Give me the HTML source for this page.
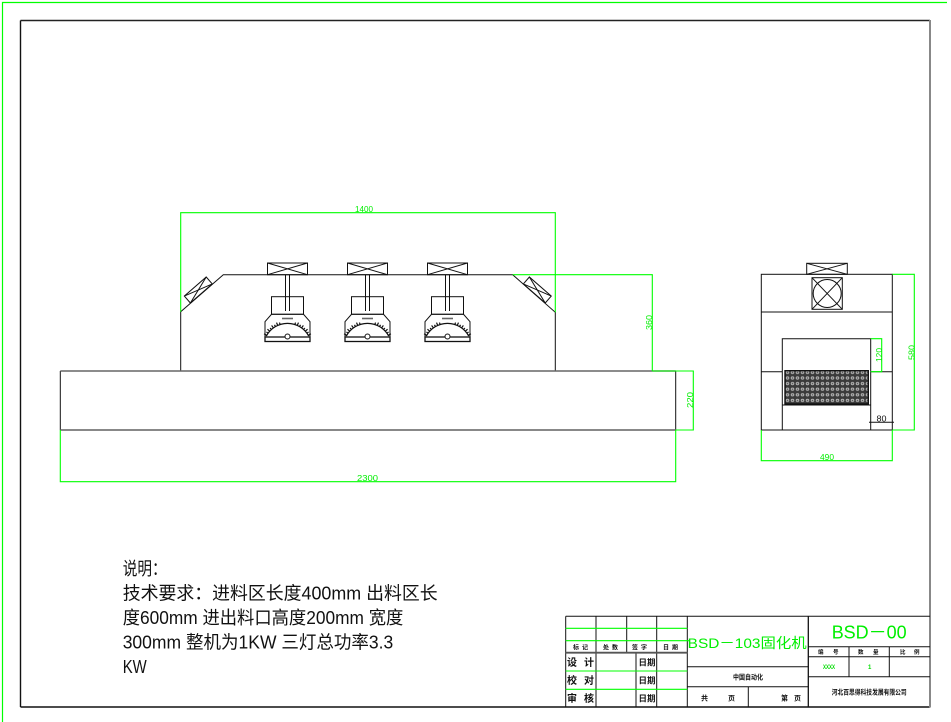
<!DOCTYPE html>
<html><head><meta charset="utf-8"><style>
html,body{margin:0;padding:0;background:#fff;}
svg{display:block;}
text{font-family:"Liberation Sans","Noto Sans CJK SC",sans-serif;}
</style></head><body>
<svg width="951" height="722" viewBox="0 0 951 722" xmlns="http://www.w3.org/2000/svg">
<defs>
<pattern id="mesh" width="5" height="5.6" patternUnits="userSpaceOnUse">
<rect width="5" height="5.6" fill="#3a3a3a"/>
<ellipse cx="2.5" cy="2.8" rx="1.8" ry="1.6" fill="#b5b5b5"/>
<ellipse cx="2.5" cy="2.8" rx="0.8" ry="0.7" fill="#555"/>
</pattern>
<g id="lamp" fill="none" stroke="#111" stroke-width="1">
<rect x="-20" y="263" width="40" height="11.7"/>
<line x1="-20" y1="263" x2="20" y2="274.7"/>
<line x1="-20" y1="274.7" x2="20" y2="263"/>
<line x1="-2" y1="274.7" x2="-2" y2="311"/>
<line x1="2" y1="274.7" x2="2" y2="311"/>
<rect x="-16" y="296.7" width="32" height="17.6"/>
<polygon points="-16,314.3 16,314.3 22.5,321.7 22.5,337 -22.5,337 -22.5,321.7"/>
<rect x="-22.5" y="337" width="45" height="4.5" stroke-width="1.3"/>
<line x1="-5.5" y1="318.5" x2="5.5" y2="318.5" stroke="#666" stroke-width="1.6"/>
<path d="M -21.2 336.1 A 24 24 0 0 1 21.2 336.1" stroke-width="1.2"/>
<g transform="translate(0,347.3)" stroke-width="1.2">
<line x1="24" y1="0" x2="27" y2="0" transform="rotate(-150)"/>
<line x1="24" y1="0" x2="26" y2="0" transform="rotate(-144)"/>
<line x1="24" y1="0" x2="27" y2="0" transform="rotate(-138)"/>
<line x1="24" y1="0" x2="26" y2="0" transform="rotate(-132)"/>
<line x1="24" y1="0" x2="27" y2="0" transform="rotate(-126)"/>
<line x1="24" y1="0" x2="26" y2="0" transform="rotate(-120)"/>
<line x1="24" y1="0" x2="27" y2="0" transform="rotate(-114)"/>
<line x1="24" y1="0" x2="26" y2="0" transform="rotate(-108)"/>
<line x1="24" y1="0" x2="26" y2="0" transform="rotate(-72)"/>
<line x1="24" y1="0" x2="27" y2="0" transform="rotate(-66)"/>
<line x1="24" y1="0" x2="26" y2="0" transform="rotate(-60)"/>
<line x1="24" y1="0" x2="27" y2="0" transform="rotate(-54)"/>
<line x1="24" y1="0" x2="26" y2="0" transform="rotate(-48)"/>
<line x1="24" y1="0" x2="27" y2="0" transform="rotate(-42)"/>
<line x1="24" y1="0" x2="26" y2="0" transform="rotate(-36)"/>
<line x1="24" y1="0" x2="27" y2="0" transform="rotate(-30)"/>
</g>
<circle cx="0" cy="336.5" r="2.5" fill="#fff"/>
</g>
<g id="fanbox" fill="none" stroke="#111" stroke-width="1">
<rect x="-14.5" y="-4.6" width="29" height="9.2"/>
<line x1="-14.5" y1="-4.6" x2="14.5" y2="4.6"/>
<line x1="-14.5" y1="4.6" x2="14.5" y2="-4.6"/>
</g>
</defs>

<!-- outer green frame -->
<polyline points="2.5,724 2.5,2.5 947,2.5" fill="none" stroke="#00ff00" stroke-width="1.2"/>
<!-- inner border -->
<line x1="20.5" y1="20.5" x2="930" y2="20.5" stroke="#222" stroke-width="1.4"/>
<line x1="20.5" y1="20.5" x2="20.5" y2="707" stroke="#111" stroke-width="1.4"/>
<line x1="20.5" y1="707" x2="930" y2="707" stroke="#111" stroke-width="1.4"/>
<line x1="930" y1="20" x2="930" y2="707.5" stroke="#888" stroke-width="2"/>

<!-- FRONT VIEW -->
<g fill="none" stroke="#111" stroke-width="1">
<polyline points="180.7,371 180.7,311.7 223.3,274.7 512.7,274.7 555.3,312.3 555.3,371"/>
<line x1="60.3" y1="371" x2="60.3" y2="430"/>
<line x1="675.7" y1="371" x2="675.7" y2="430"/>
</g>
<line x1="60.3" y1="371" x2="675.7" y2="371" stroke="#666" stroke-width="1.6"/>
<line x1="60.3" y1="430" x2="675.7" y2="430" stroke="#777" stroke-width="1.8"/>
<use href="#lamp" x="287.5" y="0"/>
<use href="#lamp" x="367.5" y="0"/>
<use href="#lamp" x="447.5" y="0"/>
<use href="#fanbox" transform="translate(198.3,290) rotate(-41)"/>
<use href="#fanbox" transform="translate(537.3,290) rotate(41)"/>

<!-- front dimensions -->
<g fill="none" stroke="#00ff00" stroke-width="1.1">
<polyline points="180.7,311.7 180.7,212.7 555.3,212.7 555.3,312.3"/>
<polyline points="512.7,274.7 652.3,274.7 652.3,371"/>
<polyline points="652.3,371 693.3,371 693.3,430 675.7,430"/>
<polyline points="60.3,430 60.3,481.7 675.7,481.7 675.7,430"/>
</g>
<g fill="#00ee00" font-size="8">
<text x="355" y="212" textLength="18" lengthAdjust="spacingAndGlyphs">1400</text>
<text transform="translate(652,330) rotate(-90)" textLength="15" lengthAdjust="spacingAndGlyphs">360</text>
<text transform="translate(693,408) rotate(-90)" textLength="16" lengthAdjust="spacingAndGlyphs">220</text>
<text x="357" y="481" textLength="21" lengthAdjust="spacingAndGlyphs">2300</text>
</g>

<!-- SIDE VIEW -->
<g fill="none" stroke="#111" stroke-width="1">
<rect x="761.3" y="274.3" width="131" height="155.7"/>
<line x1="761.3" y1="312" x2="892.3" y2="312"/>
<rect x="806.7" y="263.3" width="40.6" height="11"/>
<line x1="806.7" y1="263.3" x2="847.3" y2="274.3"/>
<line x1="806.7" y1="274.3" x2="847.3" y2="263.3"/>
<rect x="812" y="277.7" width="30.3" height="31.6"/>
<circle cx="827.2" cy="293.5" r="14"/>
<line x1="812" y1="277.7" x2="842.3" y2="309.3"/>
<line x1="812" y1="309.3" x2="842.3" y2="277.7"/>
<polyline points="782.3,430 782.3,338.7 870.7,338.7 870.7,430"/>
<line x1="761.3" y1="371.7" x2="782.3" y2="371.7"/>
<line x1="870.7" y1="371.7" x2="892.3" y2="371.7"/>
<line x1="782.3" y1="405" x2="870.7" y2="405"/>
<line x1="869" y1="422.3" x2="894" y2="422.3"/>
</g>
<rect x="785" y="370.7" width="83.3" height="33.3" fill="url(#mesh)" stroke="#111" stroke-width="1.4"/>
<text x="876.5" y="421.5" font-size="8" fill="#111" textLength="10" lengthAdjust="spacingAndGlyphs">80</text>
<g fill="none" stroke="#00ff00" stroke-width="1.1">
<polyline points="870.7,338.7 881.7,338.7 881.7,371.7 870.7,371.7"/>
<polyline points="892.3,274.3 914.3,274.3 914.3,430 892.3,430"/>
<polyline points="761.3,430 761.3,460.7 892.3,460.7 892.3,430"/>
</g>
<g fill="#00ee00" font-size="8">
<text transform="translate(882,362) rotate(-90)" textLength="14" lengthAdjust="spacingAndGlyphs">120</text>
<text transform="translate(914.5,360) rotate(-90)" textLength="15" lengthAdjust="spacingAndGlyphs">580</text>
<text x="820" y="460" textLength="14" lengthAdjust="spacingAndGlyphs">490</text>
</g>

<!-- NOTES -->
<g fill="#111" font-size="18">
<text x="122.7" y="575" textLength="44" lengthAdjust="spacingAndGlyphs">说明：</text>
<text x="122.7" y="599.5" textLength="315" lengthAdjust="spacingAndGlyphs">技术要求：进料区长度400mm 出料区长</text>
<text x="122.7" y="624" textLength="280.6" lengthAdjust="spacingAndGlyphs">度600mm 进出料口高度200mm 宽度</text>
<text x="122.7" y="648.5" textLength="270.6" lengthAdjust="spacingAndGlyphs">300mm 整机为1KW 三灯总功率3.3</text>
<text x="122.7" y="673" textLength="24" lengthAdjust="spacingAndGlyphs">KW</text>
</g>

<!-- TITLE BLOCK -->
<g fill="none" stroke="#111" stroke-width="1">
<line x1="565.7" y1="616.3" x2="930" y2="616.3"/>
<line x1="565.7" y1="616.3" x2="565.7" y2="707"/>
<line x1="596" y1="616.3" x2="596" y2="707"/>
<line x1="626.7" y1="616.3" x2="626.7" y2="652.7"/>
<line x1="636" y1="652.7" x2="636" y2="707"/>
<line x1="656.7" y1="616.3" x2="656.7" y2="707"/>
<line x1="687.3" y1="616.3" x2="687.3" y2="707"/>
<line x1="808.3" y1="616.3" x2="808.3" y2="707" stroke-width="1.3"/>
<line x1="687.3" y1="666.7" x2="808.3" y2="666.7"/>
<line x1="687.3" y1="686.7" x2="808.3" y2="686.7"/>
<line x1="748.3" y1="686.7" x2="748.3" y2="707"/>
<line x1="808.3" y1="646.7" x2="930" y2="646.7"/>
<line x1="808.3" y1="656.7" x2="930" y2="656.7"/>
<line x1="808.3" y1="676.7" x2="930" y2="676.7"/>
<line x1="849" y1="646.7" x2="849" y2="676.7"/>
<line x1="889.3" y1="646.7" x2="889.3" y2="676.7"/>
</g>
<line x1="565.7" y1="652.7" x2="687.3" y2="652.7" stroke="#555" stroke-width="1.8"/>
<g stroke="#00ff00" stroke-width="1.1">
<line x1="565.7" y1="628.3" x2="687.3" y2="628.3"/>
<line x1="565.7" y1="640.7" x2="690" y2="640.7"/>
<line x1="565.7" y1="671" x2="687.3" y2="671"/>
<line x1="565.7" y1="689.3" x2="687.3" y2="689.3"/>
</g>
<g fill="#111" font-weight="bold" font-size="6">
<text x="573" y="649.5">标</text><text x="582" y="649.5">记</text>
<text x="603" y="649.5">处</text><text x="612" y="649.5">数</text>
<text x="632" y="649.5">签</text><text x="641" y="649.5">字</text>
<text x="663" y="649.5">日</text><text x="672" y="649.5">期</text>
</g>
<g fill="#111" font-weight="bold" font-size="10">
<text x="567" y="666">设</text><text x="584" y="666">计</text>
<text x="567" y="684">校</text><text x="584" y="684">对</text>
<text x="567" y="702">审</text><text x="584" y="702">核</text>
</g>
<g fill="#111" font-weight="bold" font-size="8.5">
<text x="638.5" y="665.5" textLength="17" lengthAdjust="spacingAndGlyphs">日期</text>
<text x="638.5" y="683.5" textLength="17" lengthAdjust="spacingAndGlyphs">日期</text>
<text x="638.5" y="701.5" textLength="17" lengthAdjust="spacingAndGlyphs">日期</text>
</g>
<text x="687.7" y="648" font-size="14" fill="#00ee00" textLength="119" lengthAdjust="spacingAndGlyphs">BSD－103固化机</text>
<text x="831.7" y="638.5" font-size="18" fill="#00ee00" textLength="75" lengthAdjust="spacingAndGlyphs">BSD－00</text>
<g fill="#111" font-weight="bold">
<text x="733" y="679.5" font-size="7" textLength="30" lengthAdjust="spacingAndGlyphs">中国自动化</text>
<text x="701" y="700.5" font-size="7">共</text><text x="728" y="700.5" font-size="7">页</text>
<text x="781" y="700.5" font-size="7">第</text><text x="794" y="700.5" font-size="7">页</text>
<g font-size="5.5">
<text x="818" y="654">编</text><text x="833" y="654">号</text>
<text x="858" y="654">数</text><text x="873" y="654">量</text>
<text x="900" y="654">比</text><text x="914" y="654">例</text>
</g>
<text x="831.7" y="694.5" font-size="7" textLength="75" lengthAdjust="spacingAndGlyphs">河北百思得科技发展有限公司</text>
</g>
<g fill="#00dd00" font-weight="bold" font-size="6">
<text x="823" y="669" textLength="12" lengthAdjust="spacingAndGlyphs">XXXX</text>
<text x="868" y="669">1</text>
</g>
</svg>
</body></html>
